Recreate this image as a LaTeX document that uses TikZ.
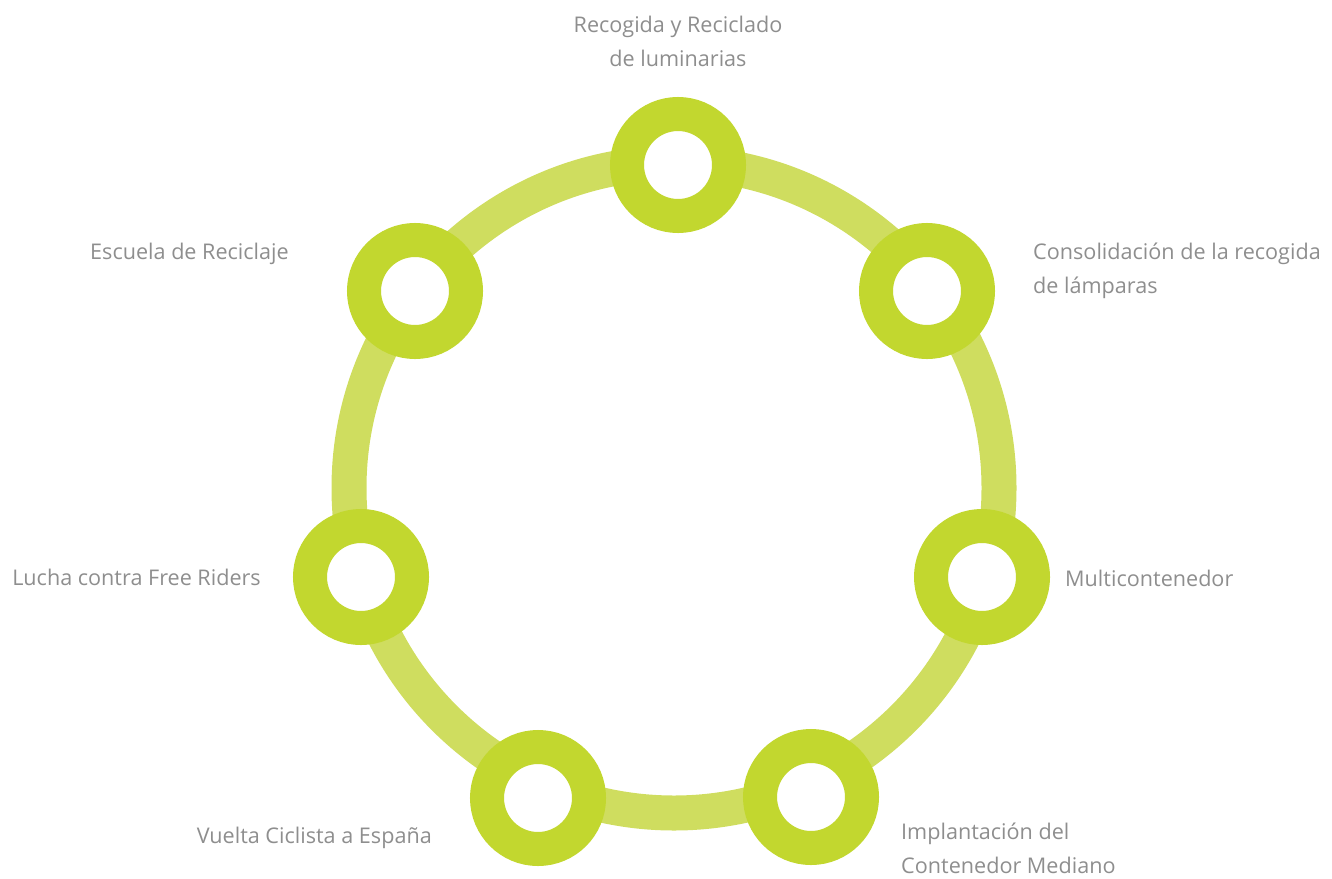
\documentclass[tikz,border=0pt]{standalone}
\usepackage{fontspec}
\setmainfont{Open Sans}
\usetikzlibrary{positioning}
\definecolor{ringGreen}{HTML}{CFDD5F}
\definecolor{stopGreen}{HTML}{C2D72F}
\definecolor{labelGray}{HTML}{8E8E8E}

\begin{document}
\begin{tikzpicture}[x=1pt,y=-1pt]
	%defines
	\tikzstyle{ring} = [draw=ringGreen, line width=35pt]
	\tikzstyle{stop} = [circle, draw=stopGreen, fill=white, line width=34pt, minimum size=102pt, inner sep=0pt]
	\tikzstyle{labelText} = [text=labelGray, font=\fontsize{21.6}{34}\selectfont, inner sep=0pt]
	\useasboundingbox (0,0) rectangle (1332,878);
	%ring
	\draw [ring] (674,488) circle [radius=325pt];
	%stops
	\node (recogida) [stop] at (678,165) {};
	\node (consolidacion) [stop] at (927,291) {};
	\node (multi) [stop] at (982,577) {};
	\node (implantacion) [stop] at (811,797) {};
	\node (vuelta) [stop] at (538,798) {};
	\node (lucha) [stop] at (361,577) {};
	\node (escuela) [stop] at (415,291) {};
	%labels
	\node (recogidaLabel) [labelText, align=center, anchor=center] at (678,41) {Recogida y Reciclado\\de luminarias};
	\node (consolidacionLabel) [labelText, align=left, anchor=west] at (1033,271) {Consolidación de la recogida\\de lámparas};
	\node (multiLabel) [labelText, anchor=west] at (1065,578) {Multicontenedor};
	\node (implantacionLabel) [labelText, align=left, anchor=west] at (901,848) {Implantación del\\Contenedor Mediano};
	\node (vueltaLabel) [labelText, anchor=east] at (432,838) {Vuelta Ciclista a España};
	\node (luchaLabel) [labelText, anchor=east] at (261,577) {Lucha contra Free Riders};
	\node (escuelaLabel) [labelText, anchor=east] at (289,254) {Escuela de Reciclaje};
\end{tikzpicture}
\end{document}
